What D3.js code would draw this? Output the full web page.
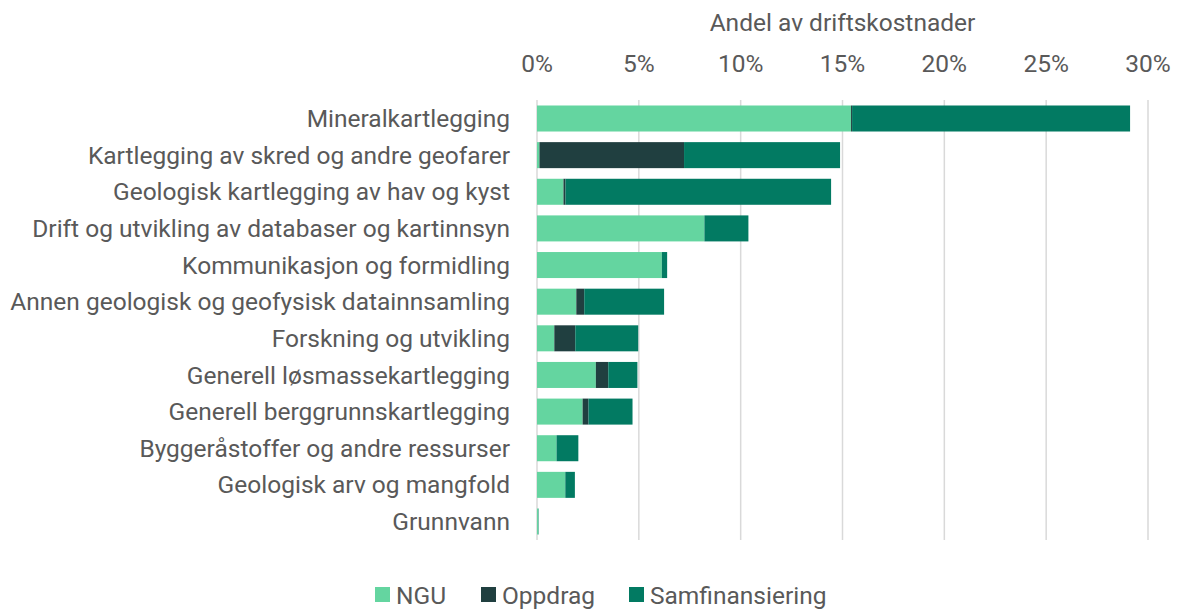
<!DOCTYPE html>
<html lang="no">
<head>
  <meta charset="UTF-8">
  <title>Andel av driftskostnader</title>
  <style>
    body { margin: 0; background: #fff; font-family: Roboto, "Liberation Sans", sans-serif; }
    svg { display: block; }
    text { fill: #595959; }
  </style>
  <script src="https://d3js.org/d3.v7.min.js"></script>
</head>
<body>
  <svg width="1180" height="610"></svg>
  <script>
    const categories = [
      "Mineralkartlegging",
      "Kartlegging av skred og andre geofarer",
      "Geologisk kartlegging av hav og kyst",
      "Drift og utvikling av databaser og kartinnsyn",
      "Kommunikasjon og formidling",
      "Annen geologisk og geofysisk datainnsamling",
      "Forskning og utvikling",
      "Generell løsmassekartlegging",
      "Generell berggrunnskartlegging",
      "Byggeråstoffer og andre ressurser",
      "Geologisk arv og mangfold",
      "Grunnvann"
    ];
    const seriesNames = ["NGU", "Oppdrag", "Samfinansiering"];
    const ngu = [15.42, 0.12, 1.30, 8.22, 6.13, 1.93, 0.85, 2.89, 2.24, 0.96, 1.39, 0.06];
    const oppdrag = [0.05, 7.10, 0.10, 0.00, 0.00, 0.39, 1.03, 0.61, 0.29, 0.00, 0.00, 0.00];
    const samfinansiering = [13.65, 7.66, 13.04, 2.16, 0.26, 3.92, 3.09, 1.43, 2.16, 1.07, 0.47, 0.02];
    const xTicks = [0, 5, 10, 15, 20, 25, 30];
    const colors = ["#64d5a0", "#203f40", "#027a62"];

    const svg = d3.select("svg");
    const margin = { left: 537, right: 32, top: 100, bottom: 70 };
    const width = 1180, height = 610;
    const fontSize = "24.5px";

    const rows = categories.map((c, i) => ({
      cat: c, NGU: ngu[i], Oppdrag: oppdrag[i], Samfinansiering: samfinansiering[i]
    }));
    const stacked = d3.stack().keys(seriesNames)(rows);

    const x = d3.scaleLinear().domain([0, 30]).range([margin.left, width - margin.right]);
    const y = d3.scaleBand().domain(categories).range([margin.top, height - margin.bottom]).paddingInner(0.29).paddingOuter(0.15);

    // gridlines
    svg.append("g").selectAll("line")
      .data(xTicks)
      .join("line")
      .attr("x1", d => x(d)).attr("x2", d => x(d))
      .attr("y1", margin.top).attr("y2", height - margin.bottom)
      .attr("stroke", "#d9d9d9").attr("stroke-width", 1.5);

    // bars
    svg.append("g").selectAll("g")
      .data(stacked)
      .join("g")
      .attr("fill", (d, i) => colors[i])
      .selectAll("rect")
      .data(d => d)
      .join("rect")
      .attr("x", d => x(d[0]))
      .attr("width", d => Math.max(0, x(d[1]) - x(d[0])))
      .attr("y", d => y(d.data.cat))
      .attr("height", y.bandwidth());

    // category labels
    svg.append("g").selectAll("text")
      .data(categories)
      .join("text")
      .attr("x", margin.left - 27)
      .attr("y", d => y(d) + y.bandwidth() / 2)
      .attr("dy", "0.35em")
      .attr("text-anchor", "end")
      .style("font-size", fontSize)
      .text(d => d);

    // top axis ticks
    svg.append("g").selectAll("text")
      .data(xTicks)
      .join("text")
      .attr("x", d => x(d))
      .attr("y", 63)
      .attr("dy", "0.35em")
      .attr("text-anchor", "middle")
      .style("font-size", fontSize)
      .text(d => d + "%");

    svg.append("text")
      .attr("x", (x(0) + x(30)) / 2)
      .attr("y", 22)
      .attr("dy", "0.35em")
      .attr("text-anchor", "middle")
      .style("font-size", fontSize)
      .text("Andel av driftskostnader");

    // legend
    const legendX = [375, 481, 629];
    const legend = svg.append("g").selectAll("g")
      .data(seriesNames)
      .join("g")
      .attr("transform", (d, i) => `translate(${legendX[i]}, 595)`);
    legend.append("rect")
      .attr("x", 0).attr("y", -8).attr("width", 15).attr("height", 15)
      .attr("fill", (d, i) => colors[i]);
    legend.append("text")
      .attr("x", 21).attr("y", 0).attr("dy", "0.35em")
      .style("font-size", fontSize)
      .text(d => d);
  </script>
</body>
</html>
